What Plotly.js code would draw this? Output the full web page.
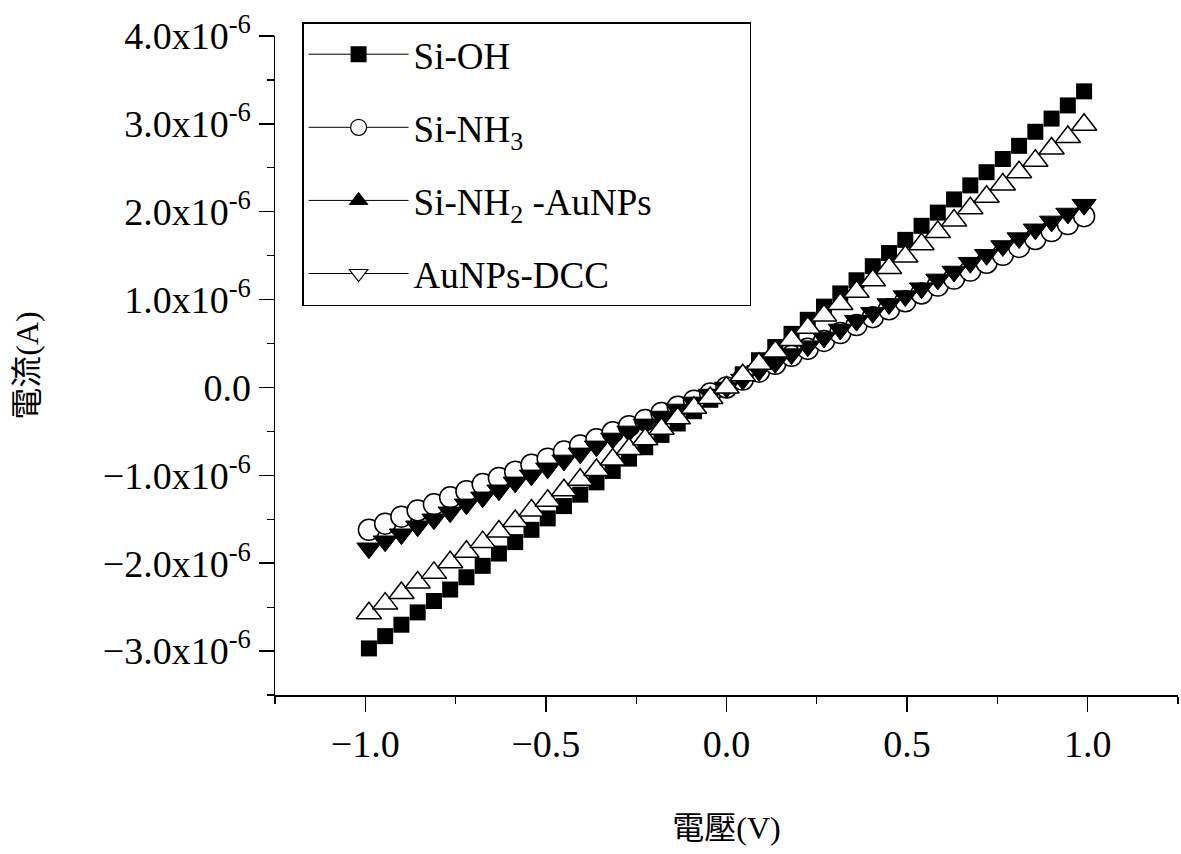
<!DOCTYPE html>
<html>
<head>
<meta charset="utf-8">
<script src="https://cdn.plot.ly/plotly-3.0.1.min.js"></script>
<style>html,body{margin:0;padding:0;background:#fff;}#chart{width:1181px;height:854px;}</style>
</head>
<body>
<div id="chart"></div>
<script>
// Voltage (V)
const voltage = [-0.99,-0.945,-0.9,-0.855,-0.81,-0.765,-0.72,-0.675,-0.63,-0.585,-0.54,-0.495,-0.45,-0.405,-0.36,-0.315,-0.27,-0.225,-0.18,-0.135,-0.09,-0.045,0,0.045,0.09,0.135,0.18,0.225,0.27,0.315,0.36,0.405,0.45,0.495,0.54,0.585,0.63,0.675,0.72,0.765,0.81,0.855,0.9,0.945,0.99];
// Current (x10^-6 A)
const siOH = [-2.97,-2.83,-2.70,-2.56,-2.43,-2.30,-2.16,-2.03,-1.89,-1.76,-1.62,-1.49,-1.35,-1.22,-1.08,-0.95,-0.81,-0.68,-0.54,-0.41,-0.27,-0.14,0.0,0.15,0.31,0.46,0.61,0.77,0.92,1.07,1.22,1.38,1.53,1.68,1.84,1.99,2.14,2.30,2.45,2.60,2.75,2.91,3.06,3.21,3.37];
const siNH3 = [-1.62,-1.55,-1.47,-1.40,-1.33,-1.25,-1.18,-1.10,-1.03,-0.96,-0.88,-0.81,-0.73,-0.66,-0.59,-0.51,-0.44,-0.37,-0.29,-0.22,-0.15,-0.07,0.0,0.09,0.18,0.27,0.36,0.44,0.53,0.62,0.71,0.80,0.89,0.98,1.07,1.16,1.24,1.33,1.42,1.51,1.60,1.69,1.78,1.86,1.95];
const siNH2AuNPs = [-1.83,-1.75,-1.67,-1.58,-1.50,-1.42,-1.33,-1.25,-1.17,-1.08,-1.00,-0.92,-0.83,-0.75,-0.67,-0.58,-0.50,-0.42,-0.33,-0.25,-0.17,-0.08,0.0,0.09,0.19,0.28,0.38,0.47,0.57,0.66,0.76,0.85,0.95,1.04,1.13,1.23,1.32,1.42,1.51,1.61,1.70,1.80,1.89,1.98,2.08];
const auNPsDCC = [-2.57,-2.46,-2.34,-2.22,-2.11,-1.99,-1.87,-1.76,-1.64,-1.52,-1.40,-1.29,-1.17,-1.05,-0.94,-0.82,-0.70,-0.59,-0.47,-0.35,-0.23,-0.12,0.0,0.14,0.27,0.41,0.54,0.68,0.82,0.95,1.09,1.22,1.36,1.49,1.63,1.77,1.90,2.04,2.17,2.31,2.45,2.58,2.72,2.85,2.99];

const seriesNames = ["Si-OH","Si-NH<sub>3</sub>","Si-NH<sub>2</sub> -AuNPs","AuNPs-DCC"];
const xTickVals = [-1.0,-0.5,0.0,0.5,1.0];
const xTickText = ["\u22121.0","\u22120.5","0.0","0.5","1.0"];
const yTickVals = [-3,-2,-1,0,1,2,3,4];
const yTickText = ["\u22123.0x10<sup>-6</sup>","\u22122.0x10<sup>-6</sup>","\u22121.0x10<sup>-6</sup>","0.0","1.0x10<sup>-6</sup>","2.0x10<sup>-6</sup>","3.0x10<sup>-6</sup>","4.0x10<sup>-6</sup>"];

const scale = 1e-6;
const toA = arr => arr.map(v => v * scale);
const FONT = "Liberation Serif, 'Noto Sans CJK TC', serif";
const BLK = "#000";
const legendPad = "\u00a0".repeat(10);

const dataTraces = [
  {y: siOH, marker:{symbol:"square", size:16, color:BLK, line:{width:0}}},
  {y: siNH3, marker:{symbol:"circle", size:21, color:"#fff", line:{color:BLK, width:1.5}}},
  {y: siNH2AuNPs, marker:{symbol:"triangle-down", size:21, color:BLK, line:{color:BLK, width:1}}},
  {y: auNPsDCC, marker:{symbol:"triangle-up", size:22, color:"#fff", line:{color:BLK, width:1.5}}}
].map((t,i) => ({
  type:"scatter", mode:"markers", x: voltage, y: toA(t.y), marker: t.marker,
  name: seriesNames[i], showlegend:false, hoverinfo:"x+y"
}));

const legendSymbols = [
  {symbol:"square", color:BLK, line:{color:BLK,width:0}},
  {symbol:"circle", color:"#fff", line:{color:BLK,width:1.2}},
  {symbol:"triangle-up", color:BLK, line:{color:BLK,width:1}},
  {symbol:"triangle-down", color:"#fff", line:{color:BLK,width:1.2}}
];
const legendTraces = legendSymbols.map((m,i) => ({
  type:"scatter", mode:"lines+markers", x:[null], y:[null],
  name: seriesNames[i] + (i === 2 ? legendPad : ""), legendgroup:"g"+i, showlegend:true,
  line:{color:BLK, width:1},
  marker:{symbol:m.symbol, size:16, color:m.color, line:m.line}
}));

const layout = {
  width:1181, height:854,
  paper_bgcolor:"#fff", plot_bgcolor:"#fff",
  margin:{l:275, r:3, t:36, b:159},
  font:{family:FONT, color:BLK, size:36},
  showlegend:true,
  legend:{
    x:0.03, y:1.021, xanchor:"left", yanchor:"top",
    bordercolor:BLK, borderwidth:1.5, bgcolor:"#fff",
    font:{family:FONT, size:37, color:BLK},
    tracegroupgap:22, itemwidth:100
  },
  xaxis:{
    range:[-1.25,1.25], showline:true, linecolor:BLK, linewidth:1.5,
    showgrid:false, zeroline:false,
    tickmode:"array", tickvals:xTickVals, ticktext:xTickText,
    ticks:"outside", ticklen:15, tickwidth:1.5, tickcolor:BLK,
    minor:{ticks:"outside", ticklen:7, tickwidth:1.2, tickcolor:BLK, dtick:0.25, tick0:0, showgrid:false},
    tickfont:{family:FONT, size:38, color:BLK},
    title:{text:"電壓(V)", font:{family:FONT, size:32, color:BLK}, standoff:52}
  },
  yaxis:{
    range:[-3.5e-6,4.0e-6], showline:true, linecolor:BLK, linewidth:1.5,
    showgrid:false, zeroline:false,
    tickmode:"array", tickvals:yTickVals.map(v=>v*scale), ticktext:yTickText,
    ticks:"outside", ticklen:15, tickwidth:1.5, tickcolor:BLK,
    minor:{ticks:"outside", ticklen:7, tickwidth:1.2, tickcolor:BLK, dtick:0.5e-6, tick0:0, showgrid:false},
    tickfont:{family:FONT, size:38, color:BLK},
    title:{text:"電流(A)", font:{family:FONT, size:32, color:BLK}, standoff:54}
  }
};

Plotly.newPlot("chart", dataTraces.concat(legendTraces), layout, {displayModeBar:false, staticPlot:true});
</script>
</body>
</html>
